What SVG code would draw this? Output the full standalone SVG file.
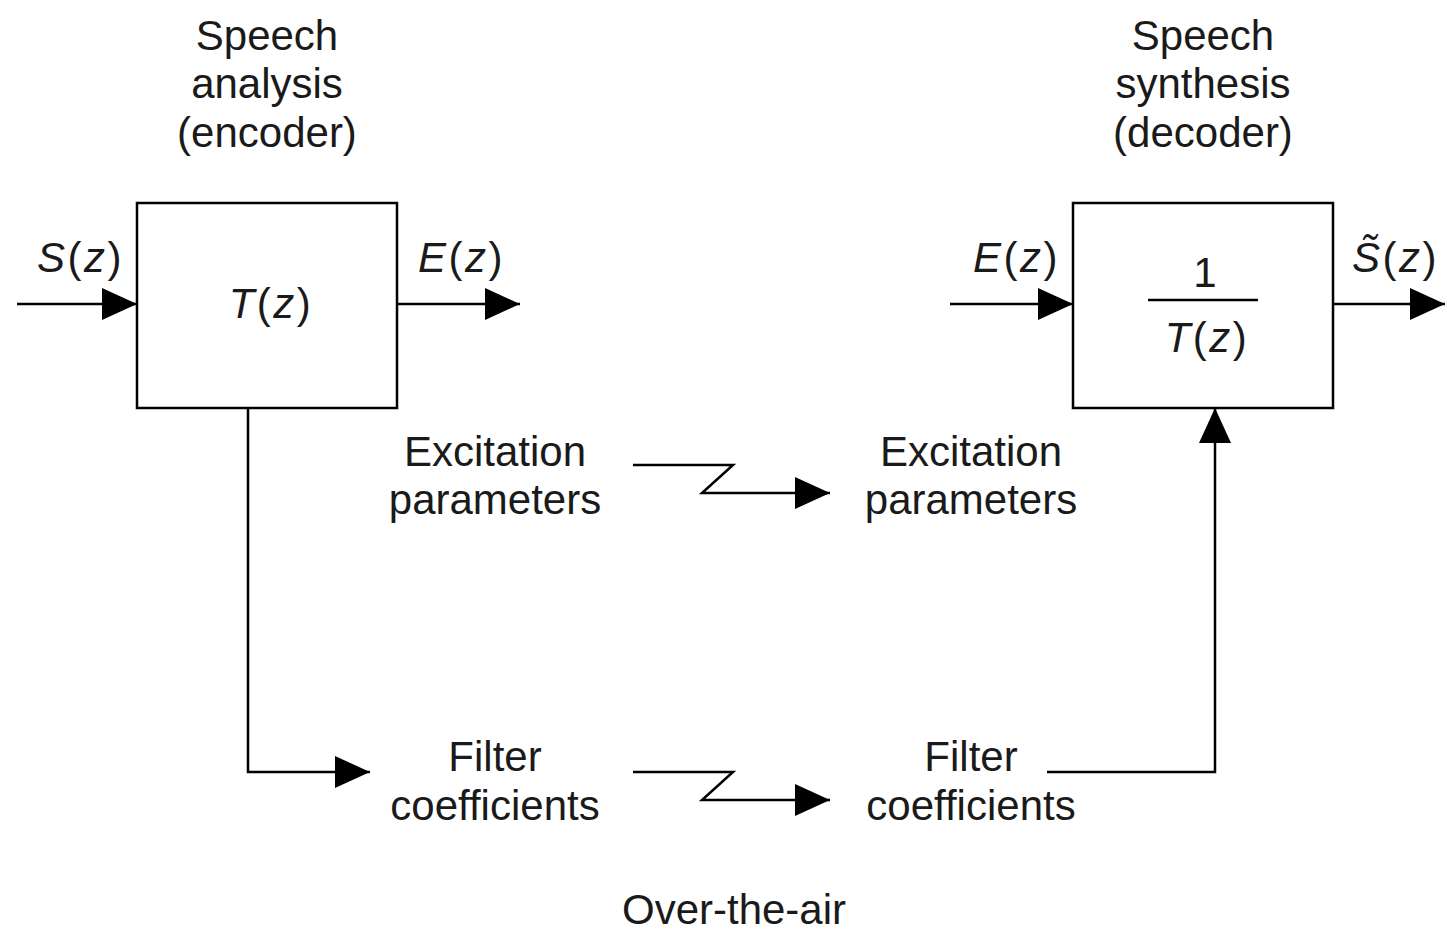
<svg xmlns="http://www.w3.org/2000/svg" width="1445" height="931" viewBox="0 0 1445 931">
  <style>
    text { font-family: "Liberation Sans", Arial, sans-serif; font-size: 42px; fill: #1a1a1a; }
    .mid { text-anchor: middle; }
    .it { font-style: italic; }
    .math { letter-spacing: 2.5px; }
    .box { fill: #fff; stroke: #000; stroke-width: 2.5; }
    .wire { fill: none; stroke: #000; stroke-width: 2.5; }
  </style>
  <defs>
    <marker id="arrow" markerUnits="userSpaceOnUse" markerWidth="36" markerHeight="34" refX="35" refY="17" orient="auto">
      <path d="M0,1 L35,17 L0,33 Z" fill="#000"/>
    </marker>
  </defs>

  <rect width="1445" height="931" fill="#fff"/>

  <!-- Encoder block -->
  <g id="encoder">
    <text class="mid" x="267" y="50">Speech</text>
    <text class="mid" x="267" y="98">analysis</text>
    <text class="mid" x="267" y="147">(encoder)</text>
    <rect class="box" x="137" y="203" width="260" height="205"/>
    <text class="mid math" x="271" y="318"><tspan class="it">T</tspan>(<tspan class="it">z</tspan>)</text>
  </g>

  <!-- Decoder block -->
  <g id="decoder">
    <text class="mid" x="1203" y="50">Speech</text>
    <text class="mid" x="1203" y="98">synthesis</text>
    <text class="mid" x="1203" y="147">(decoder)</text>
    <rect class="box" x="1073" y="203" width="260" height="205"/>
    <text class="mid" x="1205" y="287">1</text>
    <line x1="1148" y1="300" x2="1258" y2="300" stroke="#000" stroke-width="2.5"/>
    <text class="mid math" x="1207" y="352"><tspan class="it">T</tspan>(<tspan class="it">z</tspan>)</text>
  </g>

  <!-- Signal labels -->
  <g id="signal-labels">
    <text class="math" x="37" y="272"><tspan class="it">S</tspan>(<tspan class="it">z</tspan>)</text>
    <text class="math" x="418" y="272"><tspan class="it">E</tspan>(<tspan class="it">z</tspan>)</text>
    <text class="math" x="973" y="272"><tspan class="it">E</tspan>(<tspan class="it">z</tspan>)</text>
    <text class="math" x="1352" y="272"><tspan class="it">S&#x303;</tspan>(<tspan class="it">z</tspan>)</text>
  </g>

  <!-- Parameter labels -->
  <g id="tx-excitation">
    <text class="mid" x="495" y="466">Excitation</text>
    <text class="mid" x="495" y="514">parameters</text>
  </g>
  <g id="rx-excitation">
    <text class="mid" x="971" y="466">Excitation</text>
    <text class="mid" x="971" y="514">parameters</text>
  </g>
  <g id="tx-filter">
    <text class="mid" x="495" y="771">Filter</text>
    <text class="mid" x="495" y="820">coefficients</text>
  </g>
  <g id="rx-filter">
    <text class="mid" x="971" y="771">Filter</text>
    <text class="mid" x="971" y="820">coefficients</text>
  </g>
  <g id="channel">
    <text class="mid" x="734" y="924">Over-the-air</text>
  </g>

  <!-- Connectors -->
  <g id="connectors">
    <line class="wire" x1="17" y1="304" x2="137" y2="304" marker-end="url(#arrow)"/>
    <line class="wire" x1="397" y1="304" x2="520" y2="304" marker-end="url(#arrow)"/>
    <line class="wire" x1="950" y1="304" x2="1073" y2="304" marker-end="url(#arrow)"/>
    <line class="wire" x1="1333" y1="304" x2="1445" y2="304" marker-end="url(#arrow)"/>
    <polyline class="wire" points="248,408 248,772 370,772" marker-end="url(#arrow)"/>
    <polyline class="wire" points="633,465 733,465 702,493 830,493" marker-end="url(#arrow)"/>
    <polyline class="wire" points="633,772 733,772 702,800 830,800" marker-end="url(#arrow)"/>
    <polyline class="wire" points="1047,772 1215,772 1215,408" marker-end="url(#arrow)"/>
  </g>
</svg>
